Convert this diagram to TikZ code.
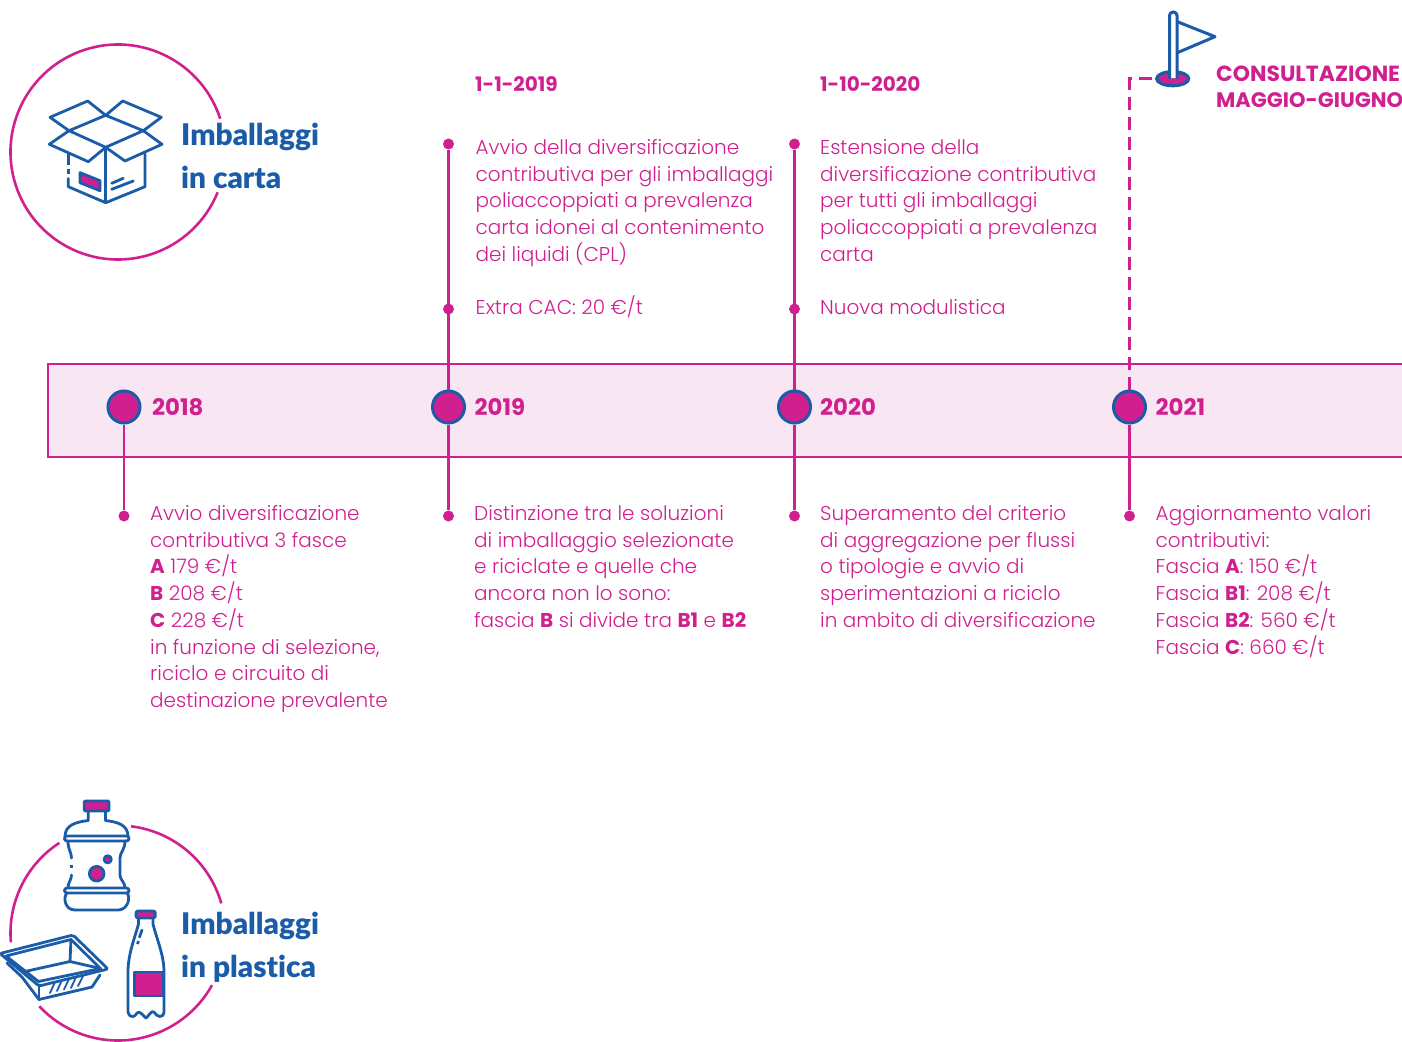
\documentclass[tikz,border=0pt]{standalone}
\usepackage{fontspec}
\setmainfont{Poppins Light}[BoldFont={Poppins Bold}]
\newfontfamily\headf{Lato Black}[Ligatures=CommonOff]
\newfontfamily\yearf{Poppins Bold}
\usetikzlibrary{calc,shapes.geometric}
\definecolor{pk}{HTML}{D0208F}
\definecolor{bl}{HTML}{1A5CA8}
\definecolor{bandc}{HTML}{F9E6F3}
\newcommand\blk[1]{\vtop{\hsize=440pt\baselineskip=26.7pt\lineskiplimit=-50pt\parindent=0pt\raggedright #1}}
\newcommand\ringarc[4]{\draw[ring] ({#1+107.5*cos(#3)},{#2-107.5*sin(#3)}) arc[start angle=#3,end angle=#4,radius=107.5pt];}
\tikzset{
 x=1pt,y=-1pt,
 txt/.style={anchor=base west,inner sep=0pt,text=pk,font=\fontsize{20}{26}\selectfont},
 yr/.style={anchor=base west,inner sep=0pt,text=pk,font=\yearf\fontsize{22.8}{26}\selectfont},
 datel/.style={yr,font=\yearf\fontsize{20}{26}\selectfont},
 cons/.style={yr,font=\yearf\fontsize{21}{26}\selectfont},
 head/.style={anchor=base west,inner sep=0pt,text=bl,font=\headf\fontsize{29.8}{32}\selectfont},
 yearc/.style={circle,draw=bl,fill=pk,line width=3pt,minimum size=32pt,inner sep=0pt},
 tdot/.style={circle,fill=pk,minimum size=11pt,inner sep=0pt},
 conn/.style={draw=pk,line width=2.6pt},
 ico/.style={draw=bl,line width=2.8pt,line join=round,line cap=round},
 icop/.style={ico,fill=pk},
 ring/.style={draw=pk,line width=2.6pt},
}
\begin{document}
\begin{tikzpicture}
\useasboundingbox (0,0) rectangle (1402,1041);
% band
\path[draw=pk,fill=bandc,line width=2pt] (47.5,364) -- (1405,364) -- (1405,457) -- (47.5,457) -- cycle;
% year nodes and dots
\node[tdot] (d18b) at (124,516) {};
\node[tdot] (d19b) at (448.5,516) {};
\node[tdot] (d20b) at (794.5,516) {};
\node[tdot] (d21b) at (1129.5,516) {};
\node[tdot] (d19a) at (448.5,144) {};
\node[tdot] (d19m) at (448.5,309) {};
\node[tdot] (d20a) at (794.5,144) {};
\node[tdot] (d20m) at (794.5,309) {};
\node[yearc] (c18) at (124,407) {};
\node[yearc] (c19) at (448.5,407) {};
\node[yearc] (c20) at (794.5,407) {};
\node[yearc] (c21) at (1129.5,407) {};
\draw[conn] (c18) -- (d18b);
\draw[conn] (c19) -- (d19b);
\draw[conn] (c20) -- (d20b);
\draw[conn] (c21) -- (d21b);
\draw[conn] (c19) -- (d19a);
\draw[conn] (c20) -- (d20a);
% flag
\node[ellipse,draw=bl,fill=pk,line width=3.2pt,minimum width=32pt,minimum height=14pt,inner sep=0pt] (base) at (1172.7,78.7) {};
\draw[conn,dash pattern=on 13pt off 7pt] (c21.north) |- (base.west);
\draw[ico,fill=white,line width=3pt,rounded corners=3.5pt] (1169.5,78) -- (1169.5,12) -- (1177,12) -- (1177,78);
\draw[ico,line width=3pt,line cap=butt] (1177.3,21.7) -- (1215,36.7) -- (1177.3,52.7);
% year labels
\node[yr] (y18) at (152,415) {2018};
\node[yr] (y19) at (474.5,415) {2019};
\node[yr] (y20) at (820,415) {2020};
\node[yr] (y21) at (1155.5,415) {2021};
% dates
\node[datel] (h19) at (475,92) {1-1-2019};
\node[datel] (h20) at (820,92) {1-10-2020};
\node[cons,font=\yearf\fontsize{21.9}{26}\selectfont] (cons1) at (1216,81.5) {CONSULTAZIONE};
\node[cons,font=\yearf\fontsize{21}{26}\selectfont] (cons2) at (1216,107.5) {MAGGIO-GIUGNO};
% upper texts
\node[txt] (t19a) at (475.5,154.5) {\blk{Avvio della diversificazione\\contributiva per gli imballaggi\\poliaccoppiati a prevalenza\\carta idonei al contenimento\\dei liquidi (CPL)}};
\node[txt] (t19m) at (475.5,314) {Extra CAC: 20 €/t};
\node[txt] (t20a) at (820,154.5) {\blk{Estensione della\\diversificazione contributiva\\per tutti gli imballaggi\\poliaccoppiati a prevalenza\\carta}};
\node[txt] (t20m) at (820,314) {Nuova modulistica};
% lower texts
\node[txt] (t18b) at (150,520.5) {\blk{Avvio diversificazione\\contributiva 3 fasce\\\textbf{A} 179 €/t\\\textbf{B} 208 €/t\\\textbf{C} 228 €/t\\in funzione di selezione,\\riciclo e circuito di\\destinazione prevalente}};
\node[txt] (t19b) at (474,520.5) {\blk{Distinzione tra le soluzioni\\di imballaggio selezionate\\e riciclate e quelle che\\ancora non lo sono:\\fascia \textbf{B} si divide tra \textbf{B1} e \textbf{B2}}};
\node[txt] (t20b) at (820,520.5) {\blk{Superamento del criterio\\di aggregazione per flussi\\o tipologie e avvio di\\sperimentazioni a riciclo\\in ambito di diversificazione}};
\node[txt] (t21b) at (1155.5,520.5) {\blk{Aggiornamento valori\\contributivi:\\Fascia \textbf{A}: 150 €/t\\Fascia \textbf{B1}: 208 €/t\\Fascia \textbf{B2}: 560 €/t\\Fascia \textbf{C}: 660 €/t}};
% headings
\node[head] (hc1) at (181,145) {Imballaggi};
\node[head] (hc2) at (181,188) {in carta};
\node[head] (hp1) at (181,934.5) {Imballaggi};
\node[head] (hp2) at (181,977) {in plastica};
% rings
\ringarc{118}{152}{18}{338}
\ringarc{118}{933}{16}{83}
\ringarc{118}{933}{123}{185}
\ringarc{118}{933}{223}{331}
% box icon
\draw[ico] (50,117.3) -- (87.7,101) -- (105.7,115.3) -- (122.7,101) -- (161.3,117.3) -- (143.3,130.7) -- (162,144.3) -- (125,161) -- (105.7,147.3) -- (88.3,161.7) -- (49.3,144.3) -- (69,130.7) -- cycle;
\draw[ico] (105.7,115.3) -- (143.3,130.7) -- (105.7,147.3) -- (69,130.7) -- cycle;
\draw[ico] (105.7,147.3) -- (105.7,202.7);
\draw[ico,line cap=butt] (68.3,154) -- (68.3,165);
\draw[ico,line cap=butt] (68.3,168.5) -- (68.3,173.5);
\draw[ico] (68.3,178.5) -- (68.3,186.7) -- (105.7,202.7) -- (145,186.7) -- (145,154);
\draw[icop] (80,172.7) -- (100,180.7) -- (100,190.7) -- (80,182.7) -- cycle;
\draw[ico] (111.7,183.3) -- (123.3,178.3);
\draw[ico] (111.7,189.3) -- (133.3,181);
% jug
\draw[icop,rounded corners=1pt] (84.3,801) rectangle (109,811);
\draw[ico] (88.3,811) -- (88.3,820.5) .. controls (76,822) and (65,825) .. (65,836.5);
\draw[ico] (105.5,811) -- (105.5,820.5) .. controls (118,822) and (128,825) .. (128,836.5);
\draw[ico,fill=white,rounded corners=2.5pt] (64.5,836) rectangle (129,841);
\draw[ico] (68,841) .. controls (68,850) and (71.5,852) .. (71.5,858);
\draw[ico,line cap=butt] (71.5,865) -- (71.5,868);
\draw[ico] (71.5,875) .. controls (71.5,880) and (68,882) .. (68,888);
\draw[ico] (125,841) .. controls (125,850) and (120,852) .. (120,858) -- (120,875) .. controls (120,880) and (125,882) .. (125,888);
\draw[ico,fill=white,rounded corners=2.5pt] (64.5,888) rectangle (129,893);
\draw[ico] (67,893) .. controls (63,897) and (64.5,910) .. (75,910) -- (118,910) .. controls (128,910) and (131,897) .. (127,893);
\draw[icop] (96.7,873.7) circle[radius=7.3pt];
\draw[icop] (107.7,859.3) circle[radius=3.6pt];
% bottle
\draw[icop,rounded corners=2pt] (136,911) rectangle (155.3,918);
\draw[ico] (138.5,918) -- (138.5,924) .. controls (134,940) and (128,955) .. (128,972) -- (128,1012)
 .. controls (130,1019) and (135,1017) .. (137,1013) .. controls (140,1010) and (143,1016) .. (146,1018)
 .. controls (149,1016) and (151,1010) .. (154,1012) .. controls (157,1017) and (163,1019) .. (164,1012) -- (164,972)
 .. controls (164,955) and (157,940) .. (153,924) -- (153,918);
\draw[icop] (134.5,972) rectangle (163.5,996);
\draw[ico] (142,930) -- (139.5,937);
\draw[ico,line cap=butt] (138.5,941) -- (137.5,944);
% tray
\draw[ico,fill=white,rounded corners=2pt] (0,953.5) -- (73,935) -- (108,969) -- (39,986) -- cycle;
\draw[ico] (6,956) -- (71,939.5) -- (100.5,968.5) -- (38.5,981.5) -- cycle;
\draw[ico] (25,971.5) -- (70,961.5) -- (100.5,968.5);
\draw[ico] (70,961.5) -- (71,939.5);
\draw[ico] (7,963) -- (22,977) -- (39,999.5) -- (92,987) -- (100,975);
\draw[ico] (39,986) -- (39,999.5);
\draw[ico,line width=1.8pt] (50,993) -- (55,982);
\draw[ico,line width=1.8pt] (57,991) -- (62,980);
\draw[ico,line width=1.8pt] (64,989.5) -- (69,979);
\draw[ico,line width=1.8pt] (71,988) -- (76,977);
\draw[ico,line width=1.8pt] (78,986) -- (83,976);
\end{tikzpicture}
\end{document}
